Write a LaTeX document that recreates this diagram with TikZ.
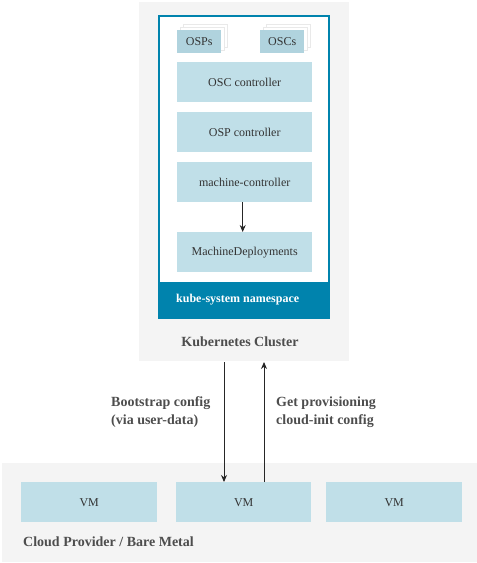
\documentclass[tikz,border=0pt]{standalone}
\usepackage{fontspec}
\setmainfont{Liberation Serif}
\usetikzlibrary{arrows.meta}
\definecolor{bggray}{HTML}{F4F4F4}
\definecolor{boxblue}{HTML}{C0DFE8}
\definecolor{darkblue}{HTML}{B0D3DE}
\definecolor{teal}{HTML}{0083AD}
\definecolor{txt}{HTML}{333333}
\definecolor{lbl}{HTML}{4D4D4D}
\definecolor{cardgray}{HTML}{E9E9E9}
\tikzset{
  region/.style={fill=bggray, draw=none},
  comp/.style={fill=boxblue, draw=none, text=txt, font=\fontsize{12}{14}\selectfont, inner sep=0pt},
  crd/.style={fill=darkblue, draw=none, text=txt, font=\fontsize{12}{14}\selectfont, inner sep=0pt},
  backcard/.style={fill=white, draw=cardgray, line width=1pt},
  blbl/.style={text=lbl, font=\bfseries\fontsize{14}{18}\selectfont, inner sep=0pt},
  flow/.style={-{Stealth[length=7pt,width=6pt]}, line width=0.9pt, draw=black!85}
}
\begin{document}
\begin{tikzpicture}[x=1pt,y=-1pt]
\useasboundingbox (0,0) rectangle (477,563);
% regions
\fill[region] (139,2) rectangle (349,361);
\fill[region] (2,463) rectangle (477,562);
% namespace box
\draw[teal, line width=2pt, fill=white] (159,16) rectangle (329,318);
\fill[teal] (159,282) rectangle (329,318);
\node[anchor=west, text=white, font=\bfseries\fontsize{12}{14}\selectfont, inner sep=0pt] (ns) at (176,300) {kube-system namespace};
% stacked cards
\draw[backcard] (183,24) rectangle (227,47);
\draw[backcard] (180,27) rectangle (224,50);
\node[crd, minimum width=44pt, minimum height=23pt, anchor=north west] (osps) at (177,30) {OSPs};
\draw[backcard] (266,24) rectangle (310,47);
\draw[backcard] (263,27) rectangle (307,50);
\node[crd, minimum width=44pt, minimum height=23pt, anchor=north west] (oscs) at (260,30) {OSCs};
% components
\node[comp, minimum width=135pt, minimum height=40pt, anchor=north west] (oscc) at (177,62) {OSC controller};
\node[comp, minimum width=135pt, minimum height=40pt, anchor=north west] (ospc) at (177,112) {OSP controller};
\node[comp, minimum width=135pt, minimum height=40pt, anchor=north west] (mc) at (177,162) {machine-controller};
\node[comp, minimum width=135pt, minimum height=40pt, anchor=north west] (md) at (177,232) {MachineDeployments};
\draw[flow] ([xshift=-2pt]mc.south) -- ([xshift=-2pt]md.north);
% cluster label
\node[blbl] (kc) at (240,342) {Kubernetes Cluster};
\coordinate (cl1) at (224,362);
\coordinate (cl2) at (264,362);
% VMs
\node[comp, minimum width=136pt, minimum height=40pt, anchor=north west] (vm1) at (21,482) {VM};
\node[comp, minimum width=135pt, minimum height=40pt, anchor=north west] (vm2) at (176,482) {VM};
\node[comp, minimum width=136pt, minimum height=40pt, anchor=north west] (vm3) at (326,482) {VM};
\node[blbl, anchor=west] (cp) at (23,542) {Cloud Provider / Bare Metal};
% arrows
\draw[flow] (cl1) -- (cl1 |- vm2.north);
\draw[flow] (cl2 |- vm2.north) -- (cl2);
\node[blbl, anchor=west, align=left] (bl) at (111,412) {Bootstrap config\\(via user-data)};
\node[blbl, anchor=west, align=left] (gl) at (276,412) {Get provisioning\\cloud-init config};
\end{tikzpicture}
\end{document}
